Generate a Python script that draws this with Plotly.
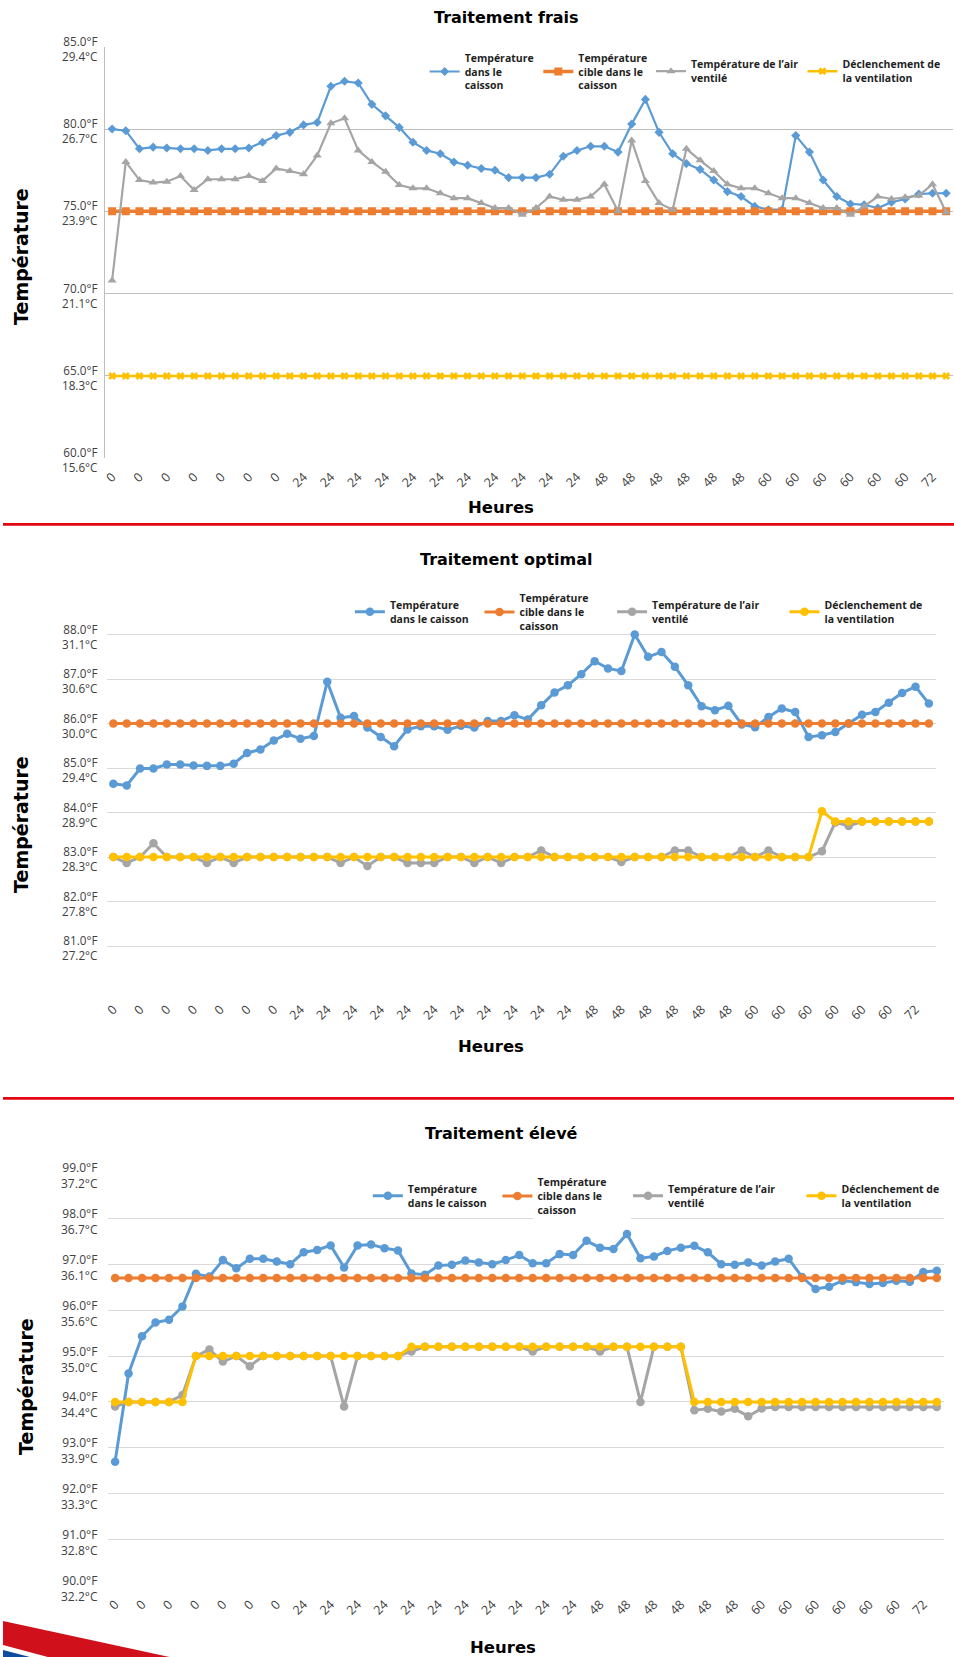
import plotly.graph_objects as go

W, H = 954, 1657

# ---------------- data ----------------
HOUR_LABELS = ["0", "0", "0", "0", "0", "0", "0",
               "24", "24", "24", "24", "24", "24", "24", "24", "24", "24", "24",
               "48", "48", "48", "48", "48", "48",
               "60", "60", "60", "60", "60", "60",
               "72"]

SERIES_NAMES_FRAIS = ["Température<br>dans le<br>caisson",
                      "Température<br>cible dans le<br>caisson",
                      "Température de l’air<br>ventilé",
                      "Déclenchement de<br>la ventilation"]
SERIES_NAMES = ["Température<br>dans le caisson",
                "Température<br>cible dans le<br>caisson",
                "Température de l’air<br>ventilé",
                "Déclenchement de<br>la ventilation"]

# Traitement frais
FRAIS_CAISSON = [80.0, 79.9, 78.8, 78.9, 78.85, 78.8, 78.8, 78.7, 78.8, 78.8,
                 78.85, 79.2, 79.6, 79.8, 80.25, 80.4, 82.6, 82.9, 82.8, 81.5,
                 80.8, 80.1, 79.2, 78.7, 78.5, 78.0, 77.8, 77.6, 77.5, 77.05,
                 77.05, 77.05, 77.25, 78.35, 78.7, 78.95, 78.95, 78.6, 80.3, 81.8,
                 79.8, 78.5, 77.9, 77.55, 76.9, 76.2, 75.9, 75.3, 75.1, 75.1,
                 79.6, 78.6, 76.9, 75.9, 75.45, 75.4, 75.2, 75.55, 75.75, 76.05,
                 76.1, 76.1]
FRAIS_CIBLE = [75.0, 75.0, 75.0, 75.0, 75.0, 75.0, 75.0, 75.0, 75.0, 75.0,
               75.0, 75.0, 75.0, 75.0, 75.0, 75.0, 75.0, 75.0, 75.0, 75.0,
               75.0, 75.0, 75.0, 75.0, 75.0, 75.0, 75.0, 75.0, 75.0, 75.0,
               75.0, 75.0, 75.0, 75.0, 75.0, 75.0, 75.0, 75.0, 75.0, 75.0,
               75.0, 75.0, 75.0, 75.0, 75.0, 75.0, 75.0, 75.0, 75.0, 75.0,
               75.0, 75.0, 75.0, 75.0, 75.0, 75.0, 75.0, 75.0, 75.0, 75.0,
               75.0, 75.0]
FRAIS_AIR = [70.8, 78.0, 76.9, 76.75, 76.8, 77.15, 76.3, 76.95, 76.95, 76.95,
             77.15, 76.85, 77.6, 77.45, 77.25, 78.4, 80.35, 80.65, 78.7, 78.0,
             77.4, 76.6, 76.4, 76.4, 76.1, 75.8, 75.8, 75.5, 75.2, 75.2,
             74.8, 75.2, 75.9, 75.7, 75.7, 75.9, 76.65, 75.0, 79.3, 76.85,
             75.5, 75.1, 78.8, 78.1, 77.45, 76.65, 76.4, 76.4, 76.1, 75.8,
             75.8, 75.5, 75.2, 75.2, 74.8, 75.3, 75.9, 75.75, 75.85, 75.95,
             76.65, 74.95]
FRAIS_DECL = [65.0, 65.0, 65.0, 65.0, 65.0, 65.0, 65.0, 65.0, 65.0, 65.0,
              65.0, 65.0, 65.0, 65.0, 65.0, 65.0, 65.0, 65.0, 65.0, 65.0,
              65.0, 65.0, 65.0, 65.0, 65.0, 65.0, 65.0, 65.0, 65.0, 65.0,
              65.0, 65.0, 65.0, 65.0, 65.0, 65.0, 65.0, 65.0, 65.0, 65.0,
              65.0, 65.0, 65.0, 65.0, 65.0, 65.0, 65.0, 65.0, 65.0, 65.0,
              65.0, 65.0, 65.0, 65.0, 65.0, 65.0, 65.0, 65.0, 65.0, 65.0,
              65.0, 65.0]

# Traitement optimal
OPT_CAISSON = [84.65, 84.61, 84.99, 84.99, 85.08, 85.08, 85.06, 85.05, 85.05, 85.1,
               85.34, 85.42, 85.62, 85.77, 85.66, 85.72, 86.94, 86.13, 86.17, 85.91,
               85.7, 85.49, 85.87, 85.94, 85.94, 85.86, 85.95, 85.91, 86.06, 86.06,
               86.19, 86.09, 86.41, 86.7, 86.86, 87.11, 87.4, 87.24, 87.18, 88.0,
               87.5, 87.61, 87.28, 86.86, 86.39, 86.3, 86.4, 85.98, 85.92, 86.15,
               86.34, 86.26, 85.7, 85.74, 85.81, 86.0, 86.2, 86.26, 86.47, 86.69,
               86.83, 86.45]
OPT_CIBLE = [86.0, 86.0, 86.0, 86.0, 86.0, 86.0, 86.0, 86.0, 86.0, 86.0,
             86.0, 86.0, 86.0, 86.0, 86.0, 86.0, 86.0, 86.0, 86.0, 86.0,
             86.0, 86.0, 86.0, 86.0, 86.0, 86.0, 86.0, 86.0, 86.0, 86.0,
             86.0, 86.0, 86.0, 86.0, 86.0, 86.0, 86.0, 86.0, 86.0, 86.0,
             86.0, 86.0, 86.0, 86.0, 86.0, 86.0, 86.0, 86.0, 86.0, 86.0,
             86.0, 86.0, 86.0, 86.0, 86.0, 86.0, 86.0, 86.0, 86.0, 86.0,
             86.0, 86.0]
OPT_AIR = [83.0, 82.87, 83.0, 83.31, 83.0, 83.0, 83.0, 82.87, 83.0, 82.87,
           83.0, 83.0, 83.0, 83.0, 83.0, 83.0, 83.0, 82.87, 83.0, 82.8,
           83.0, 83.0, 82.87, 82.87, 82.87, 83.0, 83.0, 82.87, 83.0, 82.87,
           83.0, 83.0, 83.15, 83.0, 83.0, 83.0, 83.0, 83.0, 82.89, 83.0,
           83.0, 83.0, 83.15, 83.15, 83.0, 83.0, 83.0, 83.15, 83.0, 83.15,
           83.0, 83.0, 83.0, 83.13, 83.78, 83.7, 83.8, 83.8, 83.8, 83.8,
           83.8, 83.8]
OPT_DECL = [83.0, 83.0, 83.0, 83.0, 83.0, 83.0, 83.0, 83.0, 83.0, 83.0,
            83.0, 83.0, 83.0, 83.0, 83.0, 83.0, 83.0, 83.0, 83.0, 83.0,
            83.0, 83.0, 83.0, 83.0, 83.0, 83.0, 83.0, 83.0, 83.0, 83.0,
            83.0, 83.0, 83.0, 83.0, 83.0, 83.0, 83.0, 83.0, 83.0, 83.0,
            83.0, 83.0, 83.0, 83.0, 83.0, 83.0, 83.0, 83.0, 83.0, 83.0,
            83.0, 83.0, 83.0, 84.03, 83.8, 83.8, 83.8, 83.8, 83.8, 83.8,
            83.8, 83.8]

# Traitement élevé
ELEV_CAISSON = [92.7, 94.62, 95.43, 95.73, 95.79, 96.08, 96.79, 96.73, 97.09, 96.91,
                97.12, 97.12, 97.06, 97.0, 97.26, 97.31, 97.41, 96.93, 97.41, 97.43,
                97.35, 97.3, 96.8, 96.77, 96.97, 96.99, 97.08, 97.04, 97.0, 97.09,
                97.2, 97.02, 97.02, 97.22, 97.2, 97.51, 97.36, 97.33, 97.66, 97.13,
                97.17, 97.29, 97.36, 97.4, 97.26, 97.0, 96.99, 97.04, 96.97, 97.06,
                97.12, 96.72, 96.46, 96.51, 96.64, 96.61, 96.57, 96.59, 96.64, 96.62,
                96.83, 96.86]
ELEV_CIBLE = [96.7, 96.7, 96.7, 96.7, 96.7, 96.7, 96.7, 96.7, 96.7, 96.7,
              96.7, 96.7, 96.7, 96.7, 96.7, 96.7, 96.7, 96.7, 96.7, 96.7,
              96.7, 96.7, 96.7, 96.7, 96.7, 96.7, 96.7, 96.7, 96.7, 96.7,
              96.7, 96.7, 96.7, 96.7, 96.7, 96.7, 96.7, 96.7, 96.7, 96.7,
              96.7, 96.7, 96.7, 96.7, 96.7, 96.7, 96.7, 96.7, 96.7, 96.7,
              96.7, 96.7, 96.7, 96.7, 96.7, 96.7, 96.7, 96.7, 96.7, 96.7,
              96.7, 96.7]
ELEV_AIR = [93.9, 94.0, 94.0, 94.0, 94.0, 94.15, 95.0, 95.14, 94.88, 95.0,
            94.78, 95.0, 95.0, 95.0, 95.0, 95.0, 95.0, 93.9, 95.0, 95.0,
            95.0, 95.0, 95.1, 95.2, 95.2, 95.2, 95.2, 95.2, 95.2, 95.2,
            95.2, 95.1, 95.2, 95.2, 95.2, 95.2, 95.1, 95.2, 95.2, 94.0,
            95.2, 95.2, 95.2, 93.82, 93.85, 93.79, 93.85, 93.69, 93.86, 93.89,
            93.89, 93.89, 93.89, 93.89, 93.89, 93.89, 93.89, 93.89, 93.89, 93.89,
            93.89, 93.89]
ELEV_DECL = [94.0, 94.0, 94.0, 94.0, 94.0, 94.0, 95.0, 95.0, 95.0, 95.0,
             95.0, 95.0, 95.0, 95.0, 95.0, 95.0, 95.0, 95.0, 95.0, 95.0,
             95.0, 95.0, 95.2, 95.2, 95.2, 95.2, 95.2, 95.2, 95.2, 95.2,
             95.2, 95.2, 95.2, 95.2, 95.2, 95.2, 95.2, 95.2, 95.2, 95.2,
             95.2, 95.2, 95.2, 94.0, 94.0, 94.0, 94.0, 94.0, 94.0, 94.0,
             94.0, 94.0, 94.0, 94.0, 94.0, 94.0, 94.0, 94.0, 94.0, 94.0,
             94.0, 94.0]

# y-axis ticks / labels
FRAIS_GRID = [60, 65, 70, 75, 80, 85]
FRAIS_TICKS = [60, 65, 70, 75, 80, 85]
FRAIS_LAB_F = ["60.0°F", "65.0°F", "70.0°F", "75.0°F", "80.0°F", "85.0°F"]
FRAIS_LAB_C = ["15.6°C", "18.3°C", "21.1°C", "23.9°C", "26.7°C", "29.4°C"]

OPT_GRID = [80, 81, 82, 83, 84, 85, 86, 87, 88, 89]
OPT_TICKS = [81, 82, 83, 84, 85, 86, 87, 88]
OPT_LAB_F = ["81.0°F", "82.0°F", "83.0°F", "84.0°F", "85.0°F", "86.0°F", "87.0°F", "88.0°F"]
OPT_LAB_C = ["27.2°C", "27.8°C", "28.3°C", "28.9°C", "29.4°C", "30.0°C", "30.6°C", "31.1°C"]

ELEV_GRID = [90, 91, 92, 93, 94, 95, 96, 97, 98, 99]
ELEV_TICKS = [90, 91, 92, 93, 94, 95, 96, 97, 98, 99]
ELEV_LAB_F = ["90.0°F", "91.0°F", "92.0°F", "93.0°F", "94.0°F", "95.0°F", "96.0°F", "97.0°F", "98.0°F", "99.0°F"]
ELEV_LAB_C = ["32.2°C", "32.8°C", "33.3°C", "33.9°C", "34.4°C", "35.0°C", "35.6°C", "36.1°C", "36.7°C", "37.2°C"]

# ---------------- styling / layout ----------------
COLORS = ["#5b9bd5", "#ed7d31", "#a5a5a5", "#ffc000"]
TICK_FONT = "Open Sans, Liberation Sans, sans-serif"
TITLE_FONT = "DejaVu Sans, sans-serif"


def px_x(p):
    return p / W


def px_y(p):
    return 1 - p / H


charts = [
    dict(title="Traitement frais", series=[FRAIS_CAISSON, FRAIS_CIBLE, FRAIS_AIR, FRAIS_DECL],
         names=SERIES_NAMES_FRAIS, grid=FRAIS_GRID, ticks=FRAIS_TICKS, labf=FRAIS_LAB_F, labc=FRAIS_LAB_C,
         yr=(60, 85), top=46.7, bottom=458.3, left=102.6, right=953.0,
         gridcolor="#bfbfbf", showline=True, labshift=-1.4, labsize=11.7,
         symbols=["diamond", "square", "triangle-up", "x"], msize=[7, 8, 8, 7], lw=[2.2, 3.5, 2.2, 2.5],
         title_xy=(505, 17), heures=(500, 507), temp=(18, 256),
         legx=[423, 537, 650, 802], legy=71.5),
    dict(title="Traitement optimal", series=[OPT_CAISSON, OPT_CIBLE, OPT_AIR, OPT_DECL],
         names=SERIES_NAMES, grid=OPT_GRID, ticks=OPT_TICKS, labf=OPT_LAB_F, labc=OPT_LAB_C,
         yr=(80, 89), top=590.0, bottom=990.7, left=104.0, right=935.5,
         gridcolor="#d9d9d9", showline=False, labshift=-1.8, labsize=11.7,
         symbols=["circle"] * 4, msize=[8.5, 8.5, 8.5, 8.5], lw=[3, 3, 3, 3],
         title_xy=(505, 560), heures=(490, 1046), temp=(18, 824),
         legx=[348, 478, 611, 784], legy=612),
    dict(title="Traitement élevé", series=[ELEV_CAISSON, ELEV_CIBLE, ELEV_AIR, ELEV_DECL],
         names=SERIES_NAMES, grid=ELEV_GRID, ticks=ELEV_TICKS, labf=ELEV_LAB_F, labc=ELEV_LAB_C,
         yr=(90, 99), top=1172.3, bottom=1585.7, left=105.7, right=943.5,
         gridcolor="#d9d9d9", showline=False, labshift=-3, labsize=12,
         symbols=["circle"] * 4, msize=[8.5, 8.5, 8.5, 8.5], lw=[3, 3, 3, 3],
         title_xy=(500, 1133), heures=(502, 1647), temp=(23, 1386),
         legx=[366, 496, 627, 801], legy=1196),
]

fig = go.Figure()
layout = dict(width=W, height=H, margin=dict(l=0, r=0, t=0, b=0),
              paper_bgcolor="white", plot_bgcolor="white", showlegend=True)
annotations = []
shapes = []
leg_n = 0

for ci, ch in enumerate(charts):
    sfx = "" if ci == 0 else str(ci + 1)
    xa, ya = "xaxis" + sfx, "yaxis" + sfx
    xref, yref = "x" + sfx, "y" + sfx
    n = len(ch["series"][0])
    xs = list(range(n))
    for si, vals in enumerate(ch["series"]):
        leg_n += 1
        lname = "legend" if leg_n == 1 else "legend%d" % leg_n
        fig.add_trace(go.Scatter(
            x=xs, y=vals, name=ch["names"][si], mode="lines+markers",
            line=dict(color=COLORS[si], width=ch["lw"][si]),
            marker=dict(symbol=ch["symbols"][si], size=ch["msize"][si], color=COLORS[si],
                        line=dict(width=0)),
            xaxis=xref, yaxis=yref, legend=lname, hoverinfo="skip"))
        layout[lname] = dict(
            x=px_x(ch["legx"][si]), y=px_y(ch["legy"]), xanchor="left", yanchor="middle",
            bgcolor="rgba(0,0,0,0)", borderwidth=0, itemwidth=30,
            font=dict(family=TICK_FONT, size=10.5, color="#1f1f1f", weight="bold"))
    pad = 0.002
    layout[xa] = dict(domain=[px_x(ch["left"]), px_x(ch["right"])], anchor=yref,
                      range=[-0.5, n - 0.5], tickmode="array",
                      tickvals=xs[::2], ticktext=HOUR_LABELS, tickangle=-45,
                      ticklabelstandoff=8,
                      tickfont=dict(family=TICK_FONT, size=12.5, color="#404040"),
                      showgrid=False, zeroline=False, showline=False, ticks="")
    layout[ya] = dict(domain=[px_y(ch["bottom"]), px_y(ch["top"])], anchor=xref,
                      range=[ch["yr"][0] - pad, ch["yr"][1] + pad], tickmode="array",
                      tickvals=ch["grid"], showticklabels=False, showgrid=True,
                      gridcolor=ch["gridcolor"], gridwidth=1.4, zeroline=False,
                      showline=ch["showline"], linecolor="#bfbfbf", linewidth=1.4, ticks="")
    # two-line y tick labels (°F above the grid line, °C below)
    for v, lf, lc in zip(ch["ticks"], ch["labf"], ch["labc"]):
        annotations.append(dict(x=px_x(97), xref="paper", xanchor="right", align="right",
                                y=v, yref=yref, yanchor="middle", yshift=ch["labshift"],
                                text=lf + "<br>" + lc, showarrow=False,
                                font=dict(family=TICK_FONT, size=ch["labsize"], color="#404040")))
    # axis titles
    annotations.append(dict(x=px_x(ch["heures"][0]), y=px_y(ch["heures"][1]), xref="paper", yref="paper",
                            text="Heures", showarrow=False, xanchor="center", yanchor="middle",
                            font=dict(family=TITLE_FONT, size=16.5, color="#000000", weight="bold")))
    annotations.append(dict(x=px_x(ch["temp"][0]), y=px_y(ch["temp"][1]), xref="paper", yref="paper",
                            text="Température", showarrow=False, textangle=-90,
                            xanchor="center", yanchor="middle",
                            font=dict(family=TITLE_FONT, size=19, color="#000000", weight="bold")))
    annotations.append(dict(x=px_x(ch["title_xy"][0]), y=px_y(ch["title_xy"][1]), xref="paper", yref="paper",
                            text=ch["title"], showarrow=False, xanchor="center", yanchor="middle",
                            font=dict(family=TITLE_FONT, size=16, color="#000000", weight="bold")))

# white boxes behind the tall legend entry (they interrupt grid lines)
shapes.append(dict(type="rect", xref="paper", yref="paper", layer="above",
                   x0=px_x(511), x1=px_x(611), y0=px_y(596), y1=px_y(584),
                   fillcolor="white", line=dict(width=0)))
shapes.append(dict(type="rect", xref="paper", yref="paper", layer="above",
                   x0=px_x(532), x1=px_x(630), y0=px_y(1222), y1=px_y(1167),
                   fillcolor="white", line=dict(width=0)))
# red separators
for yy in (524.3, 1098.3):
    shapes.append(dict(type="line", xref="paper", yref="paper", x0=0, x1=1,
                       y0=px_y(yy), y1=px_y(yy), line=dict(color="#e20613", width=2.7)))
# corner decoration
shapes.append(dict(type="path", xref="paper", yref="paper", fillcolor="#d0101b", line=dict(width=0),
                   path="M 0 %f L %f %f L %f %f L 0 %f Z" % (px_y(1621), px_x(167), px_y(1657),
                                                             px_x(45), px_y(1657), px_y(1645))))
shapes.append(dict(type="path", xref="paper", yref="paper", fillcolor="#0f4b9e", line=dict(width=0),
                   path="M 0 %f L %f %f L 0 %f Z" % (px_y(1650), px_x(27), px_y(1657), px_y(1657))))

layout["annotations"] = annotations
layout["shapes"] = shapes
fig.update_layout(**layout)
fig.write_html("out.html")
